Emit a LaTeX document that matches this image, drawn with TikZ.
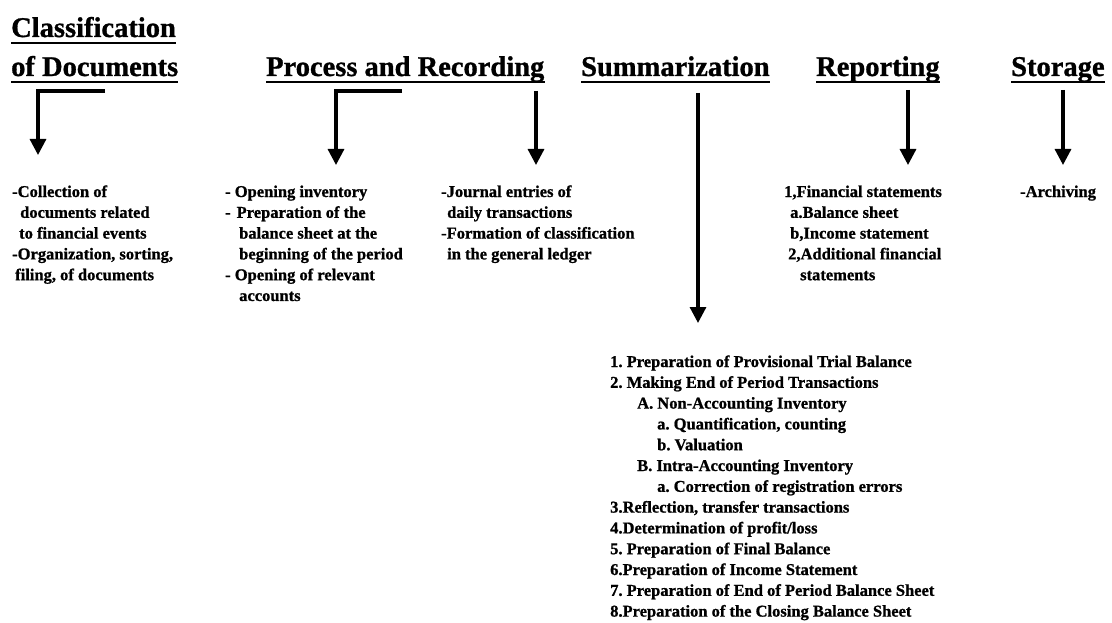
\documentclass[tikz,border=0pt]{standalone}
\usepackage{fontspec}
\setmainfont{Liberation Serif}[BoldFeatures={FakeBold=1}]
\usetikzlibrary{arrows.meta}
\frenchspacing
\newcommand\blk[1]{\parbox[t]{15cm}{\frenchspacing\fontsize{16.5}{20.8}\selectfont\bfseries\raggedright #1}}
\begin{document}
\begin{tikzpicture}[x=1pt,y=-1pt,
  head/.style={font=\fontsize{28.5}{30}\selectfont\bfseries, inner sep=0, anchor=base west},
  body/.style={inner sep=0, anchor=base west},
  uline/.style={line width=2.8pt},
  flow/.style={line width=3.2pt, line join=miter, -{Triangle[width=16pt,length=16pt]}}
]
\useasboundingbox (0,0) rectangle (1112,623);

% headers
\node[head] (h1a) at (11,37) {Classification};
\node[head] (h1b) at (11,76) {of Documents};
\node[head] (h2) at (266,76) {Process and Recording};
\node[head] (h3) at (581,76) {Summarization};
\node[head] (h4) at (816,76) {Reporting};
\node[head] (h5) at (1011,76) {Storage};
\foreach \h in {h1a,h1b,h2,h3,h4,h5}
  \draw[uline] ([yshift=-6pt]\h.base west) -- ([yshift=-6pt]\h.base east);

% text blocks
\node[body] (t1) at (12,197) {\blk{-Collection of\\
\hspace*{8pt}documents related\\
\hspace*{7pt}to financial events\\
-Organization, sorting,\\
\hspace*{3pt}filing, of documents}};

\node[body] (t2) at (225,197) {\blk{- Opening inventory\\
-\hspace*{6pt}Preparation of the\\
\hspace*{14pt}balance sheet at the\\
\hspace*{14pt}beginning of the period\\
- Opening of relevant\\
\hspace*{14pt}accounts}};

\node[body] (t3) at (441,197) {\blk{-Journal entries of\\
\hspace*{6pt}daily transactions\\
-Formation of classification\\
\hspace*{6pt}in the general ledger}};

\node[body] (t4) at (784,197) {\blk{1,Financial statements\\
\hspace*{6pt}a.Balance sheet\\
\hspace*{6pt}b,Income statement\\
\hspace*{4pt}2,Additional financial\\
\hspace*{16pt}statements}};

\node[body] (t5) at (1020,197) {\blk{-Archiving}};

\node[body] (t6) at (610,367) {\blk{1. Preparation of Provisional Trial Balance\\
2. Making End of Period Transactions\\
\hspace*{27pt}A. Non-Accounting Inventory\\
\hspace*{47pt}a. Quantification, counting\\
\hspace*{47pt}b. Valuation\\
\hspace*{27pt}B. Intra-Accounting Inventory\\
\hspace*{47pt}a. Correction of registration errors\\
3.Reflection, transfer transactions\\
4.Determination of profit/loss\\
5. Preparation of Final Balance\\
6.Preparation of Income Statement\\
7. Preparation of End of Period Balance Sheet\\
8.Preparation of the Closing Balance Sheet}};

% connector points
\coordinate (a1e) at (105,91);
\coordinate (a1s) at (38,91);
\coordinate (a1t) at (38,155);
\coordinate (a2e) at (402,91);
\coordinate (a2s) at (336,91);
\coordinate (a2t) at (336,165);
\coordinate (a3s) at (536,91);
\coordinate (a3t) at (536,165);
\coordinate (a4s) at (698,93);
\coordinate (a4t) at (698,323);
\coordinate (a5s) at (908,90);
\coordinate (a5t) at (908,165);
\coordinate (a6s) at (1063,90);
\coordinate (a6t) at (1063,165);

\draw[flow] (a1e) -- (a1s) -- (a1t);
\draw[flow] (a2e) -- (a2s) -- (a2t);
\draw[flow] (a3s) -- (a3t);
\draw[flow] (a4s) -- (a4t);
\draw[flow] (a5s) -- (a5t);
\draw[flow] (a6s) -- (a6t);
\end{tikzpicture}
\end{document}
